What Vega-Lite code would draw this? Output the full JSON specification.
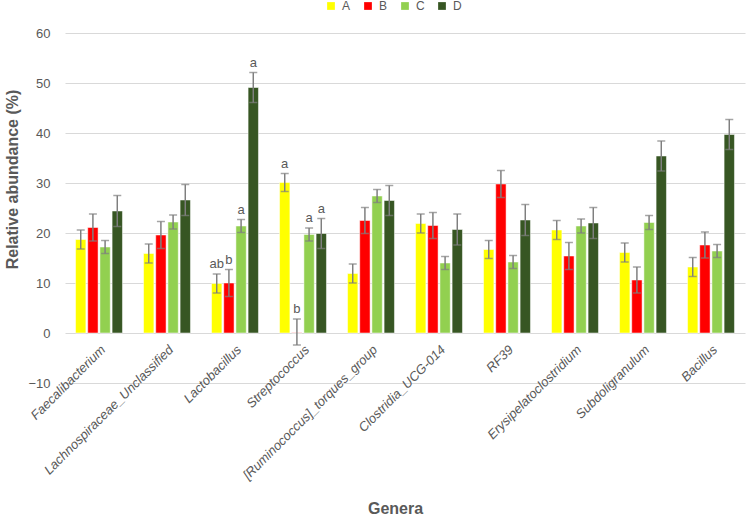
{
  "$schema": "https://vega.github.io/schema/vega-lite/v6.json",
  "autosize": "none",
  "width": 680,
  "height": 350,
  "padding": {"left": 65, "top": 33, "right": 5, "bottom": 135},
  "background": "white",
  "config": {
    "font": "Liberation Sans",
    "view": {"stroke": null},
    "axis": {"labelColor": "#595959", "titleColor": "#595959"}
  },
  "data": {
    "values": [
      {"genus": "Faecalibacterium", "group": "A", "mean": 18.7, "lo": 16.8, "hi": 20.6, "label": ""},
      {"genus": "Faecalibacterium", "group": "B", "mean": 21.1, "lo": 18.4, "hi": 23.8, "label": ""},
      {"genus": "Faecalibacterium", "group": "C", "mean": 17.2, "lo": 15.9, "hi": 18.5, "label": ""},
      {"genus": "Faecalibacterium", "group": "D", "mean": 24.4, "lo": 21.3, "hi": 27.5, "label": ""},
      {"genus": "Lachnospiraceae_Unclassified", "group": "A", "mean": 15.9, "lo": 14.0, "hi": 17.8, "label": ""},
      {"genus": "Lachnospiraceae_Unclassified", "group": "B", "mean": 19.6, "lo": 16.9, "hi": 22.3, "label": ""},
      {"genus": "Lachnospiraceae_Unclassified", "group": "C", "mean": 22.2, "lo": 20.8, "hi": 23.6, "label": ""},
      {"genus": "Lachnospiraceae_Unclassified", "group": "D", "mean": 26.6, "lo": 23.5, "hi": 29.7, "label": ""},
      {"genus": "Lactobacillus", "group": "A", "mean": 9.9, "lo": 8.0, "hi": 11.8, "label": "ab"},
      {"genus": "Lactobacillus", "group": "B", "mean": 10.0, "lo": 7.3, "hi": 12.7, "label": "b"},
      {"genus": "Lactobacillus", "group": "C", "mean": 21.4, "lo": 20.1, "hi": 22.7, "label": "a"},
      {"genus": "Lactobacillus", "group": "D", "mean": 49.1, "lo": 46.1, "hi": 52.1, "label": "a"},
      {"genus": "Streptococcus", "group": "A", "mean": 30.1, "lo": 28.3, "hi": 31.9, "label": "a"},
      {"genus": "Streptococcus", "group": "B", "mean": 0.05, "lo": -2.4, "hi": 2.8, "label": "b"},
      {"genus": "Streptococcus", "group": "C", "mean": 19.7, "lo": 18.4, "hi": 21.0, "label": "a"},
      {"genus": "Streptococcus", "group": "D", "mean": 19.9, "lo": 16.9, "hi": 22.9, "label": "a"},
      {"genus": "[Ruminococcus]_torques_group", "group": "A", "mean": 11.9, "lo": 10.0, "hi": 13.8, "label": ""},
      {"genus": "[Ruminococcus]_torques_group", "group": "B", "mean": 22.5, "lo": 19.9, "hi": 25.1, "label": ""},
      {"genus": "[Ruminococcus]_torques_group", "group": "C", "mean": 27.4, "lo": 26.1, "hi": 28.7, "label": ""},
      {"genus": "[Ruminococcus]_torques_group", "group": "D", "mean": 26.5, "lo": 23.5, "hi": 29.5, "label": ""},
      {"genus": "Clostridia_UCG-014", "group": "A", "mean": 21.9, "lo": 20.0, "hi": 23.8, "label": ""},
      {"genus": "Clostridia_UCG-014", "group": "B", "mean": 21.5, "lo": 18.9, "hi": 24.1, "label": ""},
      {"genus": "Clostridia_UCG-014", "group": "C", "mean": 14.0, "lo": 12.7, "hi": 15.3, "label": ""},
      {"genus": "Clostridia_UCG-014", "group": "D", "mean": 20.7, "lo": 17.6, "hi": 23.8, "label": ""},
      {"genus": "RF39", "group": "A", "mean": 16.7, "lo": 14.9, "hi": 18.5, "label": ""},
      {"genus": "RF39", "group": "B", "mean": 29.8, "lo": 27.1, "hi": 32.5, "label": ""},
      {"genus": "RF39", "group": "C", "mean": 14.2, "lo": 12.9, "hi": 15.5, "label": ""},
      {"genus": "RF39", "group": "D", "mean": 22.6, "lo": 19.5, "hi": 25.7, "label": ""},
      {"genus": "Erysipelatoclostridium", "group": "A", "mean": 20.6, "lo": 18.7, "hi": 22.5, "label": ""},
      {"genus": "Erysipelatoclostridium", "group": "B", "mean": 15.4, "lo": 12.7, "hi": 18.1, "label": ""},
      {"genus": "Erysipelatoclostridium", "group": "C", "mean": 21.4, "lo": 20.0, "hi": 22.8, "label": ""},
      {"genus": "Erysipelatoclostridium", "group": "D", "mean": 22.0, "lo": 18.9, "hi": 25.1, "label": ""},
      {"genus": "Subdoligranulum", "group": "A", "mean": 16.1, "lo": 14.2, "hi": 18.0, "label": ""},
      {"genus": "Subdoligranulum", "group": "B", "mean": 10.6, "lo": 8.0, "hi": 13.2, "label": ""},
      {"genus": "Subdoligranulum", "group": "C", "mean": 22.1, "lo": 20.7, "hi": 23.5, "label": ""},
      {"genus": "Subdoligranulum", "group": "D", "mean": 35.4, "lo": 32.4, "hi": 38.4, "label": ""},
      {"genus": "Bacillus", "group": "A", "mean": 13.2, "lo": 11.3, "hi": 15.1, "label": ""},
      {"genus": "Bacillus", "group": "B", "mean": 17.6, "lo": 15.0, "hi": 20.2, "label": ""},
      {"genus": "Bacillus", "group": "C", "mean": 16.4, "lo": 15.1, "hi": 17.7, "label": ""},
      {"genus": "Bacillus", "group": "D", "mean": 39.7, "lo": 36.7, "hi": 42.7, "label": ""}
    ]
  },
  "encoding": {
    "x": {
      "field": "genus",
      "type": "nominal",
      "sort": null,
      "scale": {"paddingInner": 0.31, "paddingOuter": 0.155},
      "axis": {
        "title": "Genera",
        "titleFontSize": 16,
        "titleFontWeight": "bold",
        "titleX": 330,
        "titleY": 125,
        "titleBaseline": "middle",
        "labelAngle": -45,
        "labelFontStyle": "italic",
        "labelFontSize": 13,
        "labelPadding": -40,
        "labelLimit": 300,
        "domain": false,
        "ticks": false
      }
    },
    "xOffset": {
      "field": "group",
      "type": "nominal",
      "scale": {"paddingInner": 0.15}
    }
  },
  "layer": [
    {
      "mark": {"type": "bar", "stroke": "white", "strokeWidth": 0.5},
      "encoding": {
        "y": {
          "field": "mean",
          "type": "quantitative",
          "scale": {"domain": [-10, 60]},
          "axis": {
            "title": "Relative abundance  (%)",
            "titleFontSize": 16,
            "titleFontWeight": "bold",
            "titleX": -53,
            "titleY": 146,
            "titleAngle": -90,
            "titleAlign": "center",
            "titleBaseline": "middle",
            "values": [-10, 0, 10, 20, 30, 40, 50, 60],
            "labelFontSize": 13,
            "labelPadding": 15,
            "gridColor": "#d9d9d9",
            "gridWidth": 1,
            "domain": false,
            "ticks": false
          }
        },
        "color": {
          "field": "group",
          "type": "nominal",
          "scale": {"domain": ["A", "B", "C", "D"], "range": ["#FFFF00", "#FF0000", "#92D050", "#375623"]},
          "legend": {
            "title": null,
            "orient": "none",
            "direction": "horizontal",
            "legendX": 260,
            "legendY": -33,
            "symbolType": "square",
            "symbolSize": 60,
            "symbolStrokeWidth": 0,
            "labelFontSize": 12,
            "labelColor": "#595959",
            "labelOffset": 5,
            "columnPadding": 11
          }
        }
      }
    },
    {
      "mark": {"type": "rule", "color": "#7f7f7f", "strokeWidth": 1.5},
      "encoding": {
        "y": {"field": "lo", "type": "quantitative"},
        "y2": {"field": "hi"}
      }
    },
    {
      "mark": {"type": "tick", "color": "#7f7f7f", "thickness": 1.5, "size": 8, "orient": "horizontal"},
      "encoding": {"y": {"field": "lo", "type": "quantitative"}}
    },
    {
      "mark": {"type": "tick", "color": "#7f7f7f", "thickness": 1.5, "size": 8, "orient": "horizontal"},
      "encoding": {"y": {"field": "hi", "type": "quantitative"}}
    },
    {
      "mark": {"type": "text", "baseline": "bottom", "dy": -3, "fontSize": 13, "color": "#595959"},
      "encoding": {
        "y": {"field": "hi", "type": "quantitative"},
        "text": {"field": "label"}
      }
    }
  ]
}
